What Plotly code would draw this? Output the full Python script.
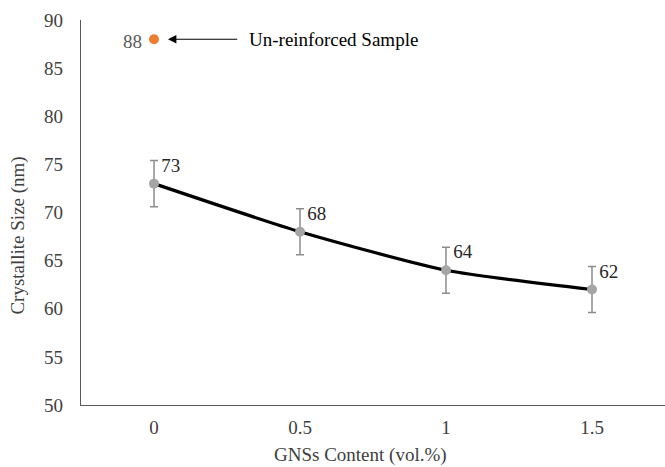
import plotly.graph_objects as go

# GNS content categories and measured crystallite sizes
gns_content = ["0", "0.5", "1", "1.5"]
crystallite_size = [73, 68, 64, 62]
size_error = [2.4, 2.4, 2.4, 2.4]

# Reference value for the sample without reinforcement
unreinforced_x = ["0"]
unreinforced_size = [88]

y_ticks = [50, 55, 60, 65, 70, 75, 80, 85, 90]

FONT = "Liberation Serif"
FS = 19

fig = go.Figure()

# Smoothed black trend line
fig.add_trace(go.Scatter(
    x=gns_content, y=crystallite_size,
    mode="lines",
    line=dict(color="black", width=3.2, shape="spline", smoothing=0.6),
    hoverinfo="skip", showlegend=False,
))

# Grey markers with error bars and value labels
fig.add_trace(go.Scatter(
    x=gns_content, y=crystallite_size,
    mode="markers+text",
    marker=dict(color="#a5a5a5", size=10),
    error_y=dict(type="data", array=size_error, color="#8c8c8c",
                 thickness=1.5, width=4),
    text=[str(v) for v in crystallite_size],
    textposition="top right",
    textfont=dict(family=FONT, size=FS, color="#262626"),
    showlegend=False,
))

# Un-reinforced sample point
fig.add_trace(go.Scatter(
    x=unreinforced_x, y=unreinforced_size,
    mode="markers",
    marker=dict(color="#ed7d31", size=10),
    showlegend=False,
))
fig.add_annotation(
    x=unreinforced_x[0], y=unreinforced_size[0], xref="x", yref="y",
    text=str(unreinforced_size[0]), showarrow=False,
    xanchor="right", xshift=-10, yshift=-2,
    font=dict(family=FONT, size=FS, color="#595959"),
)

# Arrow pointing at the un-reinforced sample
fig.add_annotation(
    x=0, y=unreinforced_size[0], xref="x", yref="y",
    ax=0.58, ay=unreinforced_size[0], axref="x", ayref="y",
    text="", showarrow=True, arrowhead=2, arrowsize=1.4,
    arrowwidth=1.2, arrowcolor="black", standoff=14,
)
fig.add_annotation(
    x=0.64, y=unreinforced_size[0], xref="x", yref="y",
    text="Un-reinforced Sample", showarrow=False, xanchor="left",
    font=dict(family=FONT, size=FS, color="black"),
)

# Axis titles
fig.add_annotation(
    x=0.478, y=0, xref="paper", yref="paper", yanchor="middle",
    yshift=-50, text="GNSs Content (vol.%)", showarrow=False,
    font=dict(family=FONT, size=FS, color="#404040"),
)
fig.add_annotation(
    x=0, y=0.44, xref="paper", yref="paper", xanchor="center",
    xshift=-63, text="Crystallite Size (nm)", showarrow=False, textangle=-90,
    font=dict(family=FONT, size=FS, color="#404040"),
)

fig.update_layout(
    width=665, height=467,
    margin=dict(l=81, r=0, t=20, b=62),
    paper_bgcolor="white", plot_bgcolor="white",
    font=dict(family=FONT, size=FS, color="#404040"),
    xaxis=dict(
        type="category", range=[-0.5, 3.5],
        showline=True, linecolor="#595959", linewidth=1.2,
        showgrid=False, ticks="", ticklabelstandoff=5,
        tickfont=dict(family=FONT, size=FS, color="#404040"),
    ),
    yaxis=dict(
        range=[50, 90], tickvals=y_ticks,
        showline=True, linecolor="#595959", linewidth=1.2,
        showgrid=False, ticks="", zeroline=False, ticklabelstandoff=13,
        tickfont=dict(family=FONT, size=FS, color="#404040"),
    ),
)

fig.write_html("out.html")
